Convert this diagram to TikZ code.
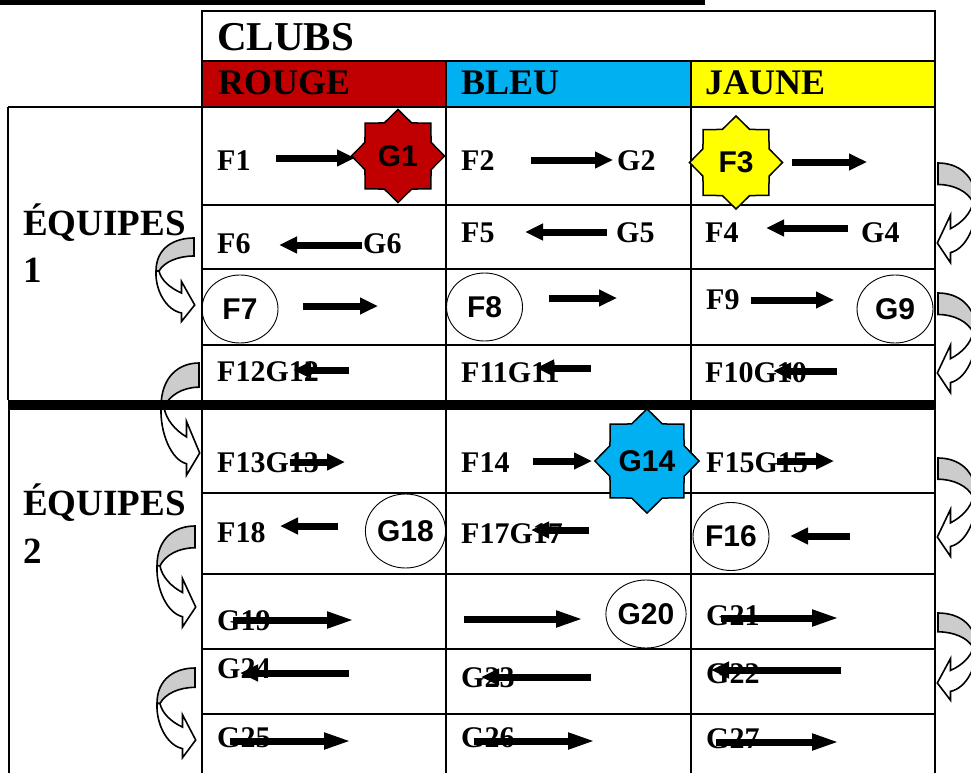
\documentclass[tikz,border=0pt]{standalone}
\usepackage{fontspec}
\setmainfont{Liberation Serif}
\newfontfamily\arialf{Liberation Sans}
\usetikzlibrary{arrows.meta,shapes.geometric}
\definecolor{cRouge}{RGB}{192,0,0}
\definecolor{cBleu}{RGB}{0,176,240}
\definecolor{cJaune}{RGB}{255,255,0}
\definecolor{cGris}{RGB}{204,204,204}
\tikzset{
  grille/.style={line width=2pt},
  lab/.style={anchor=base west, inner sep=0pt, font=\fontsize{30}{30}\selectfont\bfseries},
  titre/.style={anchor=base west, inner sep=0pt, font=\fontsize{36}{36}\selectfont\bfseries},
  equipe/.style={anchor=base west, inner sep=0pt, font=\fontsize{37}{37}\selectfont\bfseries},
  etoile/.style={star, star points=8, star point ratio=1.3, draw=black, line width=1.5pt,
                 minimum size=93pt, inner sep=0pt, font=\arialf\fontsize{30}{30}\selectfont\bfseries},
  rond/.style={ellipse, draw=black, line width=0.9pt, minimum width=76pt, minimum height=68pt,
               inner sep=0pt, font=\arialf\fontsize{30}{30}\selectfont\bfseries},
  fl/.style={-{Triangle[length=18pt,width=16pt]}, line width=7pt},
  fllong/.style={-{Triangle[length=28pt,width=15pt]}, line width=7pt},
  ruban/.style={draw=black, line width=1.6pt, line join=miter},
}
\newcommand{\Fleche}[4][fl]{% [style]{name}{from}{to}
  \coordinate (#2s) at (#3); \coordinate (#2e) at (#4);
  \draw[#1] (#2s) -- (#2e);}
\newcommand{\Ruban}[4]{% {x}{y}{drop}{side: 1 left, -1 right}
  \begin{scope}[shift={(#1,#2)}, xscale=#4, yscale=#3/67]
    \filldraw[ruban, fill=cGris] (0,0) .. controls (-20,0) and (-38,10) .. (-38,33)
      -- (-35,33) .. controls (-30,24) and (-16,18) .. (0,18) -- cycle;
    \filldraw[ruban, fill=white] (-38,33) .. controls (-39,52) and (-28,72) .. (-12.5,75)
      -- (-12.5,83.5) -- (0.7,67) -- (-12.5,43.5) -- (-12.5,55)
      .. controls (-24,50) and (-33,42) .. (-35,33) -- cycle;
  \end{scope}}

\begin{document}
\begin{tikzpicture}[x=1pt, y=-1pt]
  \useasboundingbox (0,0) rectangle (971,773);
  \clip (0,0) rectangle (971,773);
  % clipped underline of the caption above
  \fill (0,0.5) rectangle (705,5);
  % header: clubs and their colours
  \fill[cRouge] (202,61) rectangle (446,107);
  \fill[cBleu]  (446,61) rectangle (691,107);
  \fill[cJaune] (691,61) rectangle (935,107);
  \node[titre, font=\fontsize{41}{41}\selectfont\bfseries] (clubs) at (217,51) {CLUBS};
  \node[titre] (rouge) at (218,94.5) {ROUGE};
  \node[titre] (bleu)  at (461,94.5) {BLEU};
  \node[titre] (jaune) at (705,94.5) {JAUNE};
  % turning ribbons between the rows
  \Ruban{194}{238}{67}{1}
  \Ruban{199}{363}{90}{1}
  \Ruban{195}{526}{81}{1}
  \Ruban{195}{668}{72}{1}
  \Ruban{938}{163}{80}{-1}
  \Ruban{938}{293}{80}{-1}
  \Ruban{938}{458}{79}{-1}
  \Ruban{938}{613}{70}{-1}
  % grid
  \draw[grille] (202,11) rectangle (935,107);
  \draw[grille] (202,61) -- (935,61);
  \draw[grille] (202,61) -- (202,773) (446,61) -- (446,773) (691,61) -- (691,773)
                (935,11) -- (935,773);
  \draw[grille] (8,107) -- (935,107) (8,107) -- (8,400) (9,410) -- (9,773);
  \foreach \y in {205,269,345,493,574,649,714}
    \draw[grille] (202,\y) -- (935,\y);
  \fill (8,400) rectangle (935,410);
  % teams
  \node[equipe] (eqA)  at (23,235) {ÉQUIPES};
  \node[equipe] (eqAn) at (23,282) {1};
  \node[equipe] (eqB)  at (23,515) {ÉQUIPES};
  \node[equipe] (eqBn) at (23,563) {2};
  % group 1
  \node[lab] (f1) at (217,170) {F1};
  \node[etoile, fill=cRouge] (g1) at (398,156) {G1};
  \Fleche{a1}{276,158}{355,158}
  \node[lab] (f2) at (461,170) {F2};
  \node[lab] (g2) at (617,170) {G2};
  \Fleche{a2}{531,160}{613,160}
  \node[etoile, fill=cJaune] (f3) at (736,162.5) {F3};
  \Fleche{a3}{792,162}{867,162}
  \node[lab] (f6) at (217,253) {F6};
  \node[lab] (g6) at (363,253) {G6};
  \Fleche{a6}{362,245}{279,245}
  \node[lab] (f5) at (461,242) {F5};
  \node[lab] (g5) at (616,242) {G5};
  \Fleche{a5}{607,232}{525,232}
  \node[lab] (f4) at (705,242) {F4};
  \node[lab] (g4) at (861,242) {G4};
  \Fleche{a4}{848,228}{766,228}
  \node[rond] (f7) at (240,309) {F7};
  \Fleche{a7}{303,306}{378,306}
  \node[rond] (f8) at (484.5,307) {F8};
  \Fleche{a8}{549,298}{617,298}
  \node[lab] (f9) at (706,309) {F9};
  \node[rond] (g9) at (895,309) {G9};
  \Fleche{a9}{751,300}{834,300}
  \node[lab] (f12) at (217,381) {F12G12};
  \Fleche{a12}{349,370}{293,370}
  \node[lab] (f11) at (461,382) {F11G11};
  \Fleche{a11}{591,368}{536,368}
  \node[lab] (f10) at (705,382) {F10G10};
  \Fleche{a10}{837,371}{773,371}
  % group 2
  \node[lab] (f13) at (217,472) {F13G13};
  \Fleche{a13}{290,462}{345,462}
  \node[lab] (f14) at (461,472) {F14};
  \node[etoile, fill=cBleu] (g14) at (647,461) {G14};
  \Fleche{a14}{533,461}{592,461}
  \node[lab] (f15) at (706,472) {F15G15};
  \Fleche{a15}{777,461}{834,461}
  \node[lab] (f18) at (217,542) {F18};
  \node[rond, minimum height=74pt] (g18) at (405.5,531) {G18};
  \Fleche{a18}{338,526}{280,526}
  \node[lab] (f17) at (461,543) {F17G17};
  \Fleche{a17}{589,530}{531,530}
  \node[rond] (f16) at (731,536.5) {F16};
  \Fleche{a16}{850,536}{790,536}
  \node[lab] (g19) at (217,630) {G19};
  \Fleche[fllong]{a19}{233,620}{355,620}
  \node[rond] (g20) at (646,614) {G20};
  \Fleche[fllong]{a20}{464,619}{584,619}
  \node[lab] (g21) at (706,625) {G21};
  \Fleche[fllong]{a21}{721,618}{840,618}
  \node[lab] (g24) at (217,678) {G24};
  \Fleche{a24}{349,673}{240,673}
  \node[lab] (g23) at (461,687) {G23};
  \Fleche{a23}{591,677}{481,677}
  \node[lab] (g22) at (706,683) {G22};
  \Fleche{a22}{841,670}{711,670}
  \node[lab] (g25) at (217,747) {G25};
  \Fleche[fllong]{a25}{230,741}{352,741}
  \node[lab] (g26) at (461,747) {G26};
  \Fleche[fllong]{a26}{474,741}{596,741}
  \node[lab] (g27) at (706,748) {G27};
  \Fleche[fllong]{a27}{716,742}{840,742}
\end{tikzpicture}
\end{document}
